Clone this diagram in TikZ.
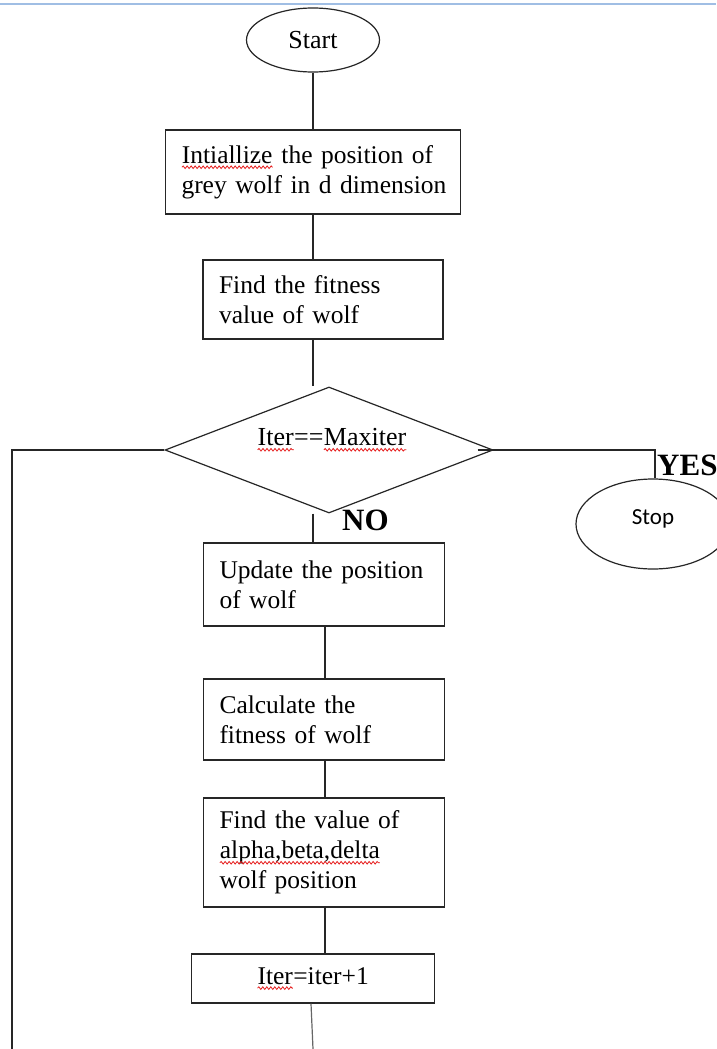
\documentclass[tikz,border=0pt]{standalone}
\usepackage{fontspec}
\setmainfont{Liberation Serif}
\newfontfamily\stopfont{Carlito}
\usetikzlibrary{shapes.geometric,decorations.pathmorphing}
\definecolor{topblue}{RGB}{160,190,228}
\definecolor{sqred}{RGB}{230,30,30}
\newcommand\sq[1]{\tikz[baseline=(sqw.base)]{\node[inner sep=0pt,outer sep=0pt,minimum width=0pt,minimum height=0pt,text width={},shape=rectangle,draw=none,fill=none,anchor=center](sqw){#1};\draw[sqred,line width=0.8pt,decorate,decoration={snake,amplitude=1.3pt,segment length=4pt}]([yshift=-4pt]sqw.base west)--([yshift=-4pt]sqw.base east);}}
\tikzset{
  conn/.style={line width=1.2pt, draw=black!85},
  box/.style={draw=black!85, line width=1.2pt, rectangle, align=left, inner xsep=16pt, inner ysep=2pt,
    font=\fontsize{25.5}{30}\selectfont},
  term/.style={draw=black!85, line width=1.2pt, ellipse, inner sep=0pt},
  lbl/.style={inner sep=0pt, font=\fontsize{31}{31}\selectfont\bfseries},
}
\begin{document}
\begin{tikzpicture}[x=1pt,y=-1pt]
\useasboundingbox[fill=white] (0,0) rectangle (716,1049);
\draw[topblue, line width=2pt] (0,4) -- (716,4);

\node[term, minimum width=133, minimum height=64, font=\fontsize{26}{30}\selectfont] (start) at (313,40) {Start};
\node[box, text width=263, minimum height=84] (b1) at (313,172) {\mbox{\sq{Intiallize} the position of}\\\mbox{grey wolf in d dimension}};
\node[box, text width=208, minimum height=79] (b2) at (323,299.5) {\mbox{Find the fitness}\\\mbox{value of wolf}};
\node[draw=black!85, line width=1.2pt, diamond, minimum width=328, minimum height=126, inner sep=0pt] (dia) at (329,450) {};
\node[inner sep=0pt, font=\fontsize{26}{30}\selectfont] (dtxt) at (332,440) {\sq{Iter}==\sq{Maxiter}};
\node[term, minimum width=154, minimum height=90, font=\stopfont\fontsize{23}{26}\selectfont] (stop) at (653,524) {\raisebox{14pt}{Stop}};
\node[lbl, anchor=base west] (yes) at (657,475) {YES};
\node[lbl, anchor=base west] (no) at (342,530) {NO};
\node[box, text width=209, minimum height=83] (b3) at (324,584.5) {\mbox{Update the position}\\\mbox{of wolf}};
\node[box, text width=209, minimum height=81] (b4) at (324,719.5) {\mbox{Calculate the}\\\mbox{fitness of wolf}};
\node[box, text width=209, minimum height=109] (b5) at (324,852.5) {\mbox{Find the value of}\\\mbox{\sq{alpha,beta,delta}}\\\mbox{wolf position}};
\node[box, align=center, text width=211, minimum height=49] (b6) at (313,978.5) {\sq{Iter}=iter+1};

\coordinate (lc) at (12,450);
\coordinate (lb) at (12,1049);
\coordinate (bot) at (313,1049);

\draw[conn] (start.south) -- (start.south |- b1.north);
\draw[conn] (b1.south) -- (b1.south |- b2.north);
\draw[conn] (b1.south |- b2.south) -- (b1.south |- dia.north);
\draw[conn] (b1.south |- dia.south) -- (b1.south |- b3.north);
\draw[conn] ([xshift=1pt]b3.south) -- ([xshift=1pt]b4.north);
\draw[conn] ([xshift=1pt]b4.south) -- ([xshift=1pt]b5.north);
\draw[conn] ([xshift=1pt]b5.south) -- ([xshift=12pt]b6.north);
\draw[line width=1.2pt, draw=black!60] ([xshift=-2pt]b6.south) -- (bot);
\draw[conn] (dia.west) -- (lc) -- (lb);
\draw[conn] ([xshift=-16pt]dia.east) -| ([xshift=2pt]stop.north);
\end{tikzpicture}
\end{document}
